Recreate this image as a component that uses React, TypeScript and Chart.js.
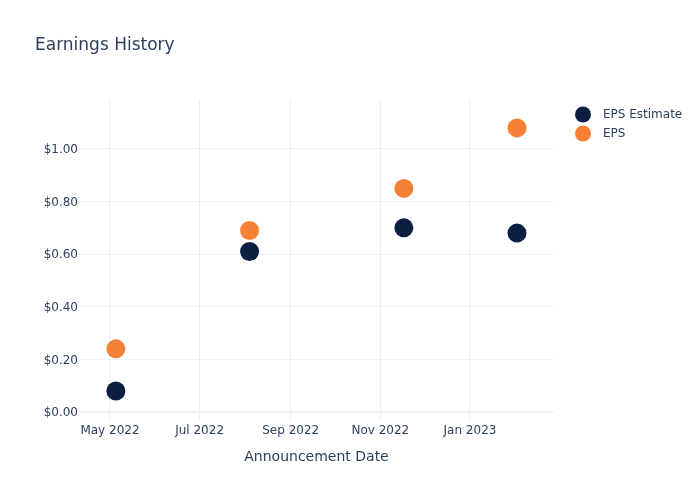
import { useEffect, useRef } from 'react';
import { Chart, registerables } from 'chart.js';

Chart.register(...registerables);

const DAY = 86400000;
const toDay = (s: string) => Date.parse(s + 'T00:00:00Z') / DAY;

// Data
const announcementDates = ['2022-05-05', '2022-08-04', '2022-11-17', '2023-02-02'];
const epsEstimate = [0.08, 0.61, 0.7, 0.68];
const epsActual = [0.24, 0.69, 0.85, 1.08];
const xTickDates = ['2022-05-01', '2022-07-01', '2022-09-01', '2022-11-01', '2023-01-01'];
const xTickLabels = ['May 2022', 'Jul 2022', 'Sep 2022', 'Nov 2022', 'Jan 2023'];
const yTickValues = [0, 0.2, 0.4, 0.6, 0.8, 1.0];
const seriesNames = ['EPS Estimate', 'EPS'];
const seriesColors = ['#0b1f41', '#f68135'];

const TEXT = '#2a3f5f';
const GRID = '#ebf0f8';
const FONT = '"DejaVu Sans", sans-serif';

export default function App() {
  const ref = useRef<HTMLCanvasElement>(null);

  useEffect(() => {
    document.body.style.margin = '0';
    const xMin = toDay('2022-05-01') - 20.4;
    const xMax = toDay('2023-01-01') + 56.5;

    const overlay = {
      id: 'overlay',
      afterDraw(chart: any) {
        const ctx = chart.ctx;
        ctx.save();
        ctx.fillStyle = TEXT;
        ctx.textBaseline = 'middle';
        ctx.textAlign = 'left';
        ctx.font = `17px ${FONT}`;
        ctx.fillText('Earnings History', 35, 45.5);
        ctx.font = `12px ${FONT}`;
        chart.data.datasets.forEach((ds: any, i: number) => {
          const y = 114.5 + 19 * i;
          ctx.beginPath();
          ctx.arc(583, y, 8, 0, Math.PI * 2);
          ctx.fillStyle = ds.backgroundColor;
          ctx.fill();
          ctx.fillStyle = TEXT;
          ctx.fillText(ds.label, 603, y + 0.5);
        });
        ctx.restore();
      },
    };

    const chart = new Chart(ref.current!, {
      type: 'scatter',
      data: {
        datasets: [
          {
            label: seriesNames[0],
            data: announcementDates.map((d, i) => ({ x: toDay(d), y: epsEstimate[i] })),
            backgroundColor: seriesColors[0],
            borderWidth: 0,
            pointRadius: 9.5,
          },
          {
            label: seriesNames[1],
            data: announcementDates.map((d, i) => ({ x: toDay(d), y: epsActual[i] })),
            backgroundColor: seriesColors[1],
            borderWidth: 0,
            pointRadius: 9.5,
          },
        ],
      },
      options: {
        responsive: false,
        animation: false,
        devicePixelRatio: 1,
        layout: { padding: { left: 0, top: 100, right: 147, bottom: 0 } },
        plugins: { legend: { display: false }, tooltip: { enabled: false }, title: { display: false } },
        scales: {
          x: {
            type: 'linear',
            min: xMin,
            max: xMax,
            afterBuildTicks: (s: any) => {
              s.ticks = xTickDates.map((d) => ({ value: toDay(d) }));
            },
            afterFit: (s: any) => {
              s.height = 80;
            },
            ticks: {
              autoSkip: false,
              maxRotation: 0,
              padding: 4,
              color: TEXT,
              font: { family: FONT, size: 12 },
              callback: (_v: any, i: number) => xTickLabels[i],
            },
            grid: { color: GRID, drawTicks: false },
            border: { display: false },
            title: {
              display: true,
              text: 'Announcement Date',
              color: TEXT,
              font: { family: FONT, size: 14 },
              padding: { top: 0, bottom: 34 },
            },
          },
          y: {
            type: 'linear',
            min: -0.0304,
            max: 1.186,
            afterBuildTicks: (s: any) => {
              s.ticks = yTickValues.map((v) => ({ value: v }));
            },
            afterFit: (s: any) => {
              s.width = 80;
            },
            ticks: {
              padding: 2,
              labelOffset: 1,
              color: TEXT,
              font: { family: FONT, size: 12 },
              callback: (v: any) => '$' + Number(v).toFixed(2),
            },
            grid: {
              color: GRID,
              drawTicks: false,
              lineWidth: (c: any) => (c.tick && c.tick.value === 0 ? 2 : 1),
            },
            border: { display: false },
          },
        },
      },
      plugins: [overlay],
    } as any);
    return () => chart.destroy();
  }, []);

  return (
    <div style={{ width: 700, height: 500 }}>
      <canvas ref={ref} width={700} height={500} />
    </div>
  );
}
